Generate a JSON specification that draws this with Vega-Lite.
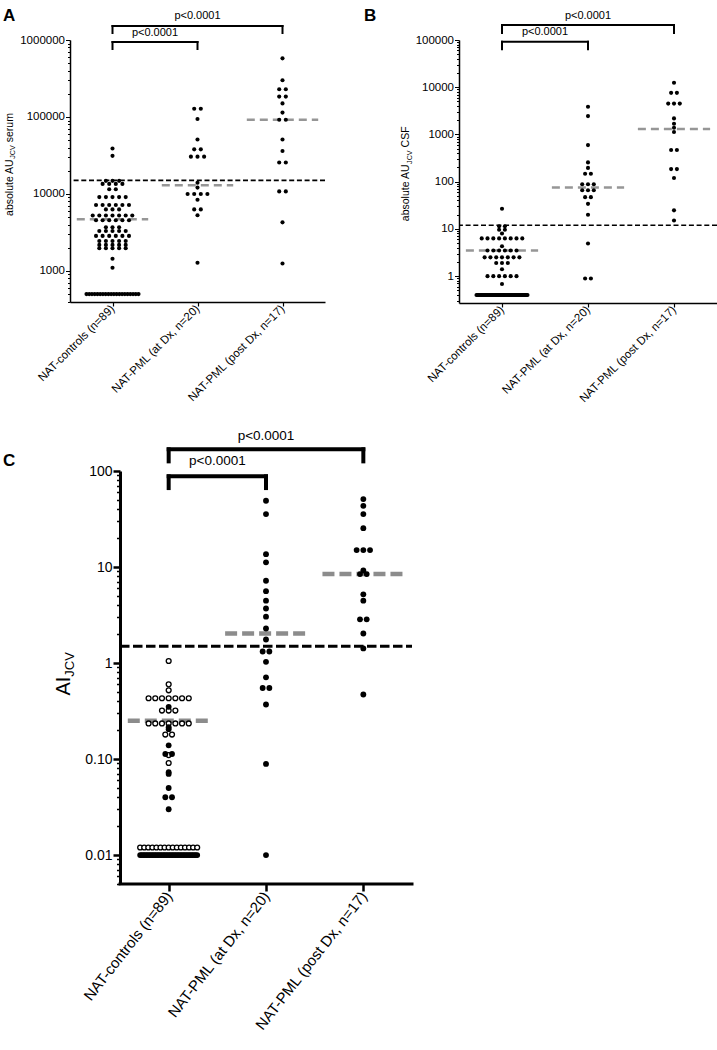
{
  "$schema": "https://vega.github.io/schema/vega-lite/v6.json",
  "background": "white",
  "padding": {"left": 3, "top": 6, "right": 2, "bottom": 2},
  "spacing": 23,
  "config": {
    "view": {"stroke": null},
    "font": "Liberation Sans",
    "axis": {"grid": false, "domainColor": "black", "tickColor": "black", "labelColor": "black", "labelFont": "Liberation Sans", "labelLimit": 400}
  },
  "datasets": {
    "brackets": [
      {"a": 0, "b": 1, "lvl": 1, "p": "p<0.0001"},
      {"a": 0, "b": 2, "lvl": 2, "p": "p<0.0001"}
    ],
    "serum": [
      {"gi":0,"v":38900},{"gi":0,"v":31300},
      {"gi":0,"v":14800},{"gi":0,"v":14800},{"gi":0,"v":14800},
      {"gi":0,"v":13500},{"gi":0,"v":13500},{"gi":0,"v":13500},{"gi":0,"v":13500},
      {"gi":0,"v":11500},{"gi":0,"v":11500},
      {"gi":0,"v":9100},{"gi":0,"v":9100},{"gi":0,"v":9100},{"gi":0,"v":9100},{"gi":0,"v":9100},
      {"gi":0,"v":7200},{"gi":0,"v":7200},{"gi":0,"v":7200},{"gi":0,"v":7200},{"gi":0,"v":7200},{"gi":0,"v":7200},
      {"gi":0,"v":6300},{"gi":0,"v":6300},{"gi":0,"v":6300},
      {"gi":0,"v":5250},{"gi":0,"v":5250},{"gi":0,"v":5250},{"gi":0,"v":5250},{"gi":0,"v":5250},{"gi":0,"v":5250},{"gi":0,"v":5250},
      {"gi":0,"v":4550},{"gi":0,"v":4550},{"gi":0,"v":4550},{"gi":0,"v":4550},{"gi":0,"v":4550},{"gi":0,"v":4550},
      {"gi":0,"v":3700},{"gi":0,"v":3700},{"gi":0,"v":3700},
      {"gi":0,"v":3300},{"gi":0,"v":3300},{"gi":0,"v":3300},{"gi":0,"v":3300},{"gi":0,"v":3300},
      {"gi":0,"v":2850},{"gi":0,"v":2850},{"gi":0,"v":2850},{"gi":0,"v":2850},{"gi":0,"v":2850},{"gi":0,"v":2850},
      {"gi":0,"v":2450},{"gi":0,"v":2450},{"gi":0,"v":2450},{"gi":0,"v":2450},{"gi":0,"v":2450},
      {"gi":0,"v":2180},{"gi":0,"v":2180},{"gi":0,"v":2180},{"gi":0,"v":2180},{"gi":0,"v":2180},
      {"gi":0,"v":1970},{"gi":0,"v":1970},{"gi":0,"v":1970},{"gi":0,"v":1970},{"gi":0,"v":1970},
      {"gi":0,"v":1440},{"gi":0,"v":1100},
      {"gi":0,"v":500},{"gi":0,"v":500},{"gi":0,"v":500},{"gi":0,"v":500},{"gi":0,"v":500},{"gi":0,"v":500},{"gi":0,"v":500},
      {"gi":0,"v":500},{"gi":0,"v":500},{"gi":0,"v":500},{"gi":0,"v":500},{"gi":0,"v":500},{"gi":0,"v":500},{"gi":0,"v":500},
      {"gi":0,"v":500},{"gi":0,"v":500},{"gi":0,"v":500},{"gi":0,"v":500},{"gi":0,"v":500},{"gi":0,"v":500},
      {"gi":1,"v":128000},{"gi":1,"v":128000},{"gi":1,"v":94000},{"gi":1,"v":51000},
      {"gi":1,"v":38000},{"gi":1,"v":38000},
      {"gi":1,"v":30500},{"gi":1,"v":30500},{"gi":1,"v":30500},
      {"gi":1,"v":14000},{"gi":1,"v":12100},
      {"gi":1,"v":10000},{"gi":1,"v":10000},{"gi":1,"v":10000},{"gi":1,"v":10000},
      {"gi":1,"v":8400},{"gi":1,"v":6300},{"gi":1,"v":6300},{"gi":1,"v":5300},{"gi":1,"v":1280},
      {"gi":2,"v":578000},{"gi":2,"v":300000},{"gi":2,"v":229000},{"gi":2,"v":229000},
      {"gi":2,"v":184000},{"gi":2,"v":184000},{"gi":2,"v":150000},{"gi":2,"v":114000},
      {"gi":2,"v":92000},{"gi":2,"v":92000},{"gi":2,"v":51000},{"gi":2,"v":36100},
      {"gi":2,"v":25600},{"gi":2,"v":25600},{"gi":2,"v":10800},{"gi":2,"v":10800},
      {"gi":2,"v":4280},{"gi":2,"v":1250}
    ],
    "csf": [
      {"gi":0,"v":26.7},{"gi":0,"v":11.4},{"gi":0,"v":11.4},{"gi":0,"v":9.6},{"gi":0,"v":9.6},{"gi":0,"v":8.0},
      {"gi":0,"v":6.3},{"gi":0,"v":6.3},{"gi":0,"v":6.3},{"gi":0,"v":6.3},{"gi":0,"v":6.3},{"gi":0,"v":6.3},{"gi":0,"v":6.3},{"gi":0,"v":6.3},
      {"gi":0,"v":4.3},
      {"gi":0,"v":3.5},{"gi":0,"v":3.5},{"gi":0,"v":3.5},{"gi":0,"v":3.5},{"gi":0,"v":3.5},{"gi":0,"v":3.5},
      {"gi":0,"v":2.5},{"gi":0,"v":2.5},{"gi":0,"v":2.5},{"gi":0,"v":2.5},{"gi":0,"v":2.5},{"gi":0,"v":2.5},{"gi":0,"v":2.5},
      {"gi":0,"v":1.9},{"gi":0,"v":1.9},{"gi":0,"v":1.9},{"gi":0,"v":1.4},
      {"gi":0,"v":1.0},{"gi":0,"v":1.0},{"gi":0,"v":1.0},{"gi":0,"v":1.0},{"gi":0,"v":1.0},{"gi":0,"v":1.0},
      {"gi":0,"v":0.68},
      {"gi":0,"v":0.4},{"gi":0,"v":0.4},{"gi":0,"v":0.4},{"gi":0,"v":0.4},{"gi":0,"v":0.4},{"gi":0,"v":0.4},{"gi":0,"v":0.4},{"gi":0,"v":0.4},{"gi":0,"v":0.4},{"gi":0,"v":0.4},
      {"gi":0,"v":0.4},{"gi":0,"v":0.4},{"gi":0,"v":0.4},{"gi":0,"v":0.4},{"gi":0,"v":0.4},{"gi":0,"v":0.4},{"gi":0,"v":0.4},{"gi":0,"v":0.4},{"gi":0,"v":0.4},{"gi":0,"v":0.4},
      {"gi":0,"v":0.4},{"gi":0,"v":0.4},{"gi":0,"v":0.4},{"gi":0,"v":0.4},{"gi":0,"v":0.4},{"gi":0,"v":0.4},{"gi":0,"v":0.4},{"gi":0,"v":0.4},{"gi":0,"v":0.4},{"gi":0,"v":0.4},
      {"gi":0,"v":0.4},{"gi":0,"v":0.4},{"gi":0,"v":0.4},{"gi":0,"v":0.4},{"gi":0,"v":0.4},{"gi":0,"v":0.4},{"gi":0,"v":0.4},{"gi":0,"v":0.4},{"gi":0,"v":0.4},{"gi":0,"v":0.4},
      {"gi":0,"v":0.4},{"gi":0,"v":0.4},{"gi":0,"v":0.4},{"gi":0,"v":0.4},{"gi":0,"v":0.4},{"gi":0,"v":0.4},{"gi":0,"v":0.4},{"gi":0,"v":0.4},{"gi":0,"v":0.4},{"gi":0,"v":0.4},
      {"gi":1,"v":3860},{"gi":1,"v":2450},{"gi":1,"v":596},{"gi":1,"v":256},{"gi":1,"v":196},
      {"gi":1,"v":147},{"gi":1,"v":147},{"gi":1,"v":88},{"gi":1,"v":88},{"gi":1,"v":88},
      {"gi":1,"v":66},{"gi":1,"v":66},{"gi":1,"v":66},{"gi":1,"v":47},{"gi":1,"v":47},
      {"gi":1,"v":34},{"gi":1,"v":20},{"gi":1,"v":4.9},{"gi":1,"v":0.89},{"gi":1,"v":0.89},
      {"gi":2,"v":12470},{"gi":2,"v":7600},{"gi":2,"v":7600},{"gi":2,"v":4500},{"gi":2,"v":4500},{"gi":2,"v":4500},
      {"gi":2,"v":2190},{"gi":2,"v":1690},{"gi":2,"v":1390},{"gi":2,"v":1130},
      {"gi":2,"v":470},{"gi":2,"v":470},{"gi":2,"v":185},{"gi":2,"v":185},{"gi":2,"v":120},
      {"gi":2,"v":24.7},{"gi":2,"v":15.1}
    ],
    "ai": [
      {"gi":0,"sub":1,"v":1.05},{"gi":0,"sub":1,"v":0.60},{"gi":0,"sub":1,"v":0.52},
      {"gi":0,"sub":1,"v":0.43},{"gi":0,"sub":1,"v":0.43},{"gi":0,"sub":1,"v":0.43},{"gi":0,"sub":1,"v":0.43},{"gi":0,"sub":1,"v":0.43},{"gi":0,"sub":1,"v":0.43},{"gi":0,"sub":1,"v":0.43},
      {"gi":0,"sub":1,"v":0.32},{"gi":0,"sub":1,"v":0.32},{"gi":0,"sub":1,"v":0.32},
      {"gi":0,"sub":1,"v":0.235},{"gi":0,"sub":1,"v":0.235},{"gi":0,"sub":1,"v":0.235},{"gi":0,"sub":1,"v":0.235},{"gi":0,"sub":1,"v":0.235},{"gi":0,"sub":1,"v":0.235},{"gi":0,"sub":1,"v":0.235},
      {"gi":0,"sub":1,"v":0.18},{"gi":0,"sub":1,"v":0.18},{"gi":0,"sub":1,"v":0.11},{"gi":0,"sub":1,"v":0.091},
      {"gi":0,"sub":1,"v":0.012},{"gi":0,"sub":1,"v":0.012},{"gi":0,"sub":1,"v":0.012},{"gi":0,"sub":1,"v":0.012},{"gi":0,"sub":1,"v":0.012},
      {"gi":0,"sub":1,"v":0.012},{"gi":0,"sub":1,"v":0.012},{"gi":0,"sub":1,"v":0.012},{"gi":0,"sub":1,"v":0.012},{"gi":0,"sub":1,"v":0.012},
      {"gi":0,"sub":1,"v":0.012},{"gi":0,"sub":1,"v":0.012},{"gi":0,"sub":1,"v":0.012},{"gi":0,"sub":1,"v":0.012},{"gi":0,"sub":1,"v":0.012},
      {"gi":0,"sub":2,"v":0.35},{"gi":0,"sub":2,"v":0.215},{"gi":0,"sub":2,"v":0.205},{"gi":0,"sub":2,"v":0.139},
      {"gi":0,"sub":2,"v":0.113},{"gi":0,"sub":2,"v":0.113},{"gi":0,"sub":2,"v":0.073},{"gi":0,"sub":2,"v":0.070},
      {"gi":0,"sub":2,"v":0.05},{"gi":0,"sub":2,"v":0.04},{"gi":0,"sub":2,"v":0.04},{"gi":0,"sub":2,"v":0.03},
      {"gi":0,"sub":2,"v":0.01},{"gi":0,"sub":2,"v":0.01},{"gi":0,"sub":2,"v":0.01},{"gi":0,"sub":2,"v":0.01},{"gi":0,"sub":2,"v":0.01},{"gi":0,"sub":2,"v":0.01},{"gi":0,"sub":2,"v":0.01},{"gi":0,"sub":2,"v":0.01},
      {"gi":0,"sub":2,"v":0.01},{"gi":0,"sub":2,"v":0.01},{"gi":0,"sub":2,"v":0.01},{"gi":0,"sub":2,"v":0.01},{"gi":0,"sub":2,"v":0.01},{"gi":0,"sub":2,"v":0.01},{"gi":0,"sub":2,"v":0.01},{"gi":0,"sub":2,"v":0.01},
      {"gi":0,"sub":2,"v":0.01},{"gi":0,"sub":2,"v":0.01},{"gi":0,"sub":2,"v":0.01},{"gi":0,"sub":2,"v":0.01},{"gi":0,"sub":2,"v":0.01},{"gi":0,"sub":2,"v":0.01},{"gi":0,"sub":2,"v":0.01},{"gi":0,"sub":2,"v":0.01},
      {"gi":0,"sub":2,"v":0.01},{"gi":0,"sub":2,"v":0.01},{"gi":0,"sub":2,"v":0.01},{"gi":0,"sub":2,"v":0.01},{"gi":0,"sub":2,"v":0.01},{"gi":0,"sub":2,"v":0.01},{"gi":0,"sub":2,"v":0.01},{"gi":0,"sub":2,"v":0.01},
      {"gi":0,"sub":2,"v":0.01},{"gi":0,"sub":2,"v":0.01},{"gi":0,"sub":2,"v":0.01},{"gi":0,"sub":2,"v":0.01},{"gi":0,"sub":2,"v":0.01},{"gi":0,"sub":2,"v":0.01},
      {"gi":1,"sub":2,"v":49},{"gi":1,"sub":2,"v":35.6},{"gi":1,"sub":2,"v":13.6},{"gi":1,"sub":2,"v":11.2},{"gi":1,"sub":2,"v":7.2},
      {"gi":1,"sub":2,"v":5.6},{"gi":1,"sub":2,"v":4.46},{"gi":1,"sub":2,"v":3.7},{"gi":1,"sub":2,"v":3.04},{"gi":1,"sub":2,"v":2.29},
      {"gi":1,"sub":2,"v":1.76},{"gi":1,"sub":2,"v":1.32},{"gi":1,"sub":2,"v":1.32},{"gi":1,"sub":2,"v":1.03},{"gi":1,"sub":2,"v":0.71},
      {"gi":1,"sub":2,"v":0.55},{"gi":1,"sub":2,"v":0.55},{"gi":1,"sub":2,"v":0.37},{"gi":1,"sub":2,"v":0.089},{"gi":1,"sub":2,"v":0.01},
      {"gi":2,"sub":2,"v":51},{"gi":2,"sub":2,"v":43.4},{"gi":2,"sub":2,"v":35.6},{"gi":2,"sub":2,"v":25.4},
      {"gi":2,"sub":2,"v":15},{"gi":2,"sub":2,"v":15},{"gi":2,"sub":2,"v":15},{"gi":2,"sub":2,"v":9.2},
      {"gi":2,"sub":2,"v":8.45},{"gi":2,"sub":2,"v":8.45},{"gi":2,"sub":2,"v":5.2},{"gi":2,"sub":2,"v":4.46},
      {"gi":2,"sub":2,"v":2.85},{"gi":2,"sub":2,"v":2.85},{"gi":2,"sub":2,"v":2.03},{"gi":2,"sub":2,"v":1.42},{"gi":2,"sub":2,"v":0.47}
    ]
  },
  "vconcat": [
    {
      "spacing": 37,
      "hconcat": [
        {
          "width": 255,
          "height": 262,
          "layer": [
            {
              "data": {"values": [{"cut": 15000}]},
              "mark": {"type": "rule", "color": "black", "strokeWidth": 1.6, "strokeDash": [5, 2.7]},
              "encoding": {"y": {"field": "cut", "type": "quantitative", "scale": {"type": "log", "domain": [395, 1000000], "nice": false}, "axis": {"title": null}}}
            },
            {
              "data": {"values": [{"gi": 0, "med": 4690}, {"gi": 1, "med": 13000}, {"gi": 2, "med": 92000}]},
              "transform": [{"calculate": "datum.gi - 0.42", "as": "x1"}, {"calculate": "datum.gi + 0.42", "as": "x2"}],
              "mark": {"type": "rule", "color": "#969696", "strokeWidth": 2.5, "strokeDash": [8, 5]},
              "encoding": {
                "x": {"field": "x1", "type": "quantitative", "scale": {"domain": [-0.5, 2.5], "nice": false, "zero": false}, "axis": {"title": null}},
                "x2": {"field": "x2"},
                "y": {"field": "med", "type": "quantitative", "scale": {"type": "log", "domain": [395, 1000000], "nice": false}, "axis": {"title": null}}
              }
            },
            {
              "data": {"name": "serum"},
              "transform": [
                {"window": [{"op": "row_number", "as": "rk"}, {"op": "count", "as": "cnt"}], "groupby": ["gi", "v"], "frame": [null, null]},
                {"calculate": "datum.cnt > 1 ? min(0.0776, 0.612 / (datum.cnt - 1)) : 0", "as": "stp"},
                {"calculate": "datum.gi + (datum.rk - (datum.cnt + 1) / 2) * datum.stp", "as": "xp"}
              ],
              "mark": {"type": "circle", "size": 17, "color": "black", "opacity": 1},
              "encoding": {
                "x": {"field": "xp", "type": "quantitative", "scale": {"domain": [-0.5, 2.5], "nice": false, "zero": false},
                  "axis": {"title": null, "values": [0, 1, 2], "labelExpr": "['NAT-controls (n=89)','NAT-PML (at Dx, n=20)','NAT-PML (post Dx, n=17)'][datum.value]", "labelAngle": -45, "labelAlign": "right", "labelBaseline": "middle", "labelFontSize": 11.5, "labelPadding": 1, "tickSize": 4, "tickWidth": 1.2, "domainWidth": 1.5, "labelOverlap": false, "labelFlush": false, "labelBound": false}},
                "y": {"field": "v", "type": "quantitative", "scale": {"type": "log", "domain": [395, 1000000], "nice": false},
                  "axis": {"title": null, "values": [400,500,600,700,800,900,1000,2000,3000,4000,5000,6000,7000,8000,9000,10000,20000,30000,40000,50000,60000,70000,80000,90000,100000,200000,300000,400000,500000,600000,700000,800000,900000,1000000],
                    "labelExpr": "indexof([1000,10000,100000,1000000], datum.value) >= 0 ? format(datum.value, 'd') : ''",
                    "tickSize": {"condition": {"test": "indexof([1000,10000,100000,1000000], datum.value) >= 0", "value": 4.5}, "value": 2.5},
                    "tickWidth": 1, "domainWidth": 1.5, "labelFontSize": 11.5, "labelPadding": 1, "labelOverlap": false, "labelFlush": false}}
              }
            },
            {
              "data": {"name": "brackets"},
              "transform": [{"calculate": "datum.lvl == 1 ? 942000 : 1520000", "as": "yb"}],
              "mark": {"type": "rule", "color": "black", "strokeWidth": 2, "strokeCap": "square"},
              "encoding": {
                "x": {"field": "a", "type": "quantitative", "scale": {"domain": [-0.5, 2.5], "nice": false, "zero": false}, "axis": {"title": null}},
                "x2": {"field": "b"},
                "y": {"field": "yb", "type": "quantitative", "scale": {"type": "log", "domain": [395, 1000000], "nice": false}, "axis": {"title": null}}
              }
            },
            {
              "data": {"name": "brackets"},
              "transform": [
                {"calculate": "datum.lvl == 1 ? 942000 : 1520000", "as": "yb"},
                {"calculate": "datum.lvl == 1 ? 764000 : 1233000", "as": "yt"},
                {"fold": ["a", "b"], "as": ["end", "xe"]}
              ],
              "mark": {"type": "rule", "color": "black", "strokeWidth": 2, "strokeCap": "square"},
              "encoding": {
                "x": {"field": "xe", "type": "quantitative", "scale": {"domain": [-0.5, 2.5], "nice": false, "zero": false}, "axis": {"title": null}},
                "y": {"field": "yb", "type": "quantitative", "scale": {"type": "log", "domain": [395, 1000000], "nice": false}, "axis": {"title": null}},
                "y2": {"field": "yt"}
              }
            },
            {
              "data": {"name": "brackets"},
              "transform": [
                {"calculate": "(datum.a + datum.b) / 2", "as": "mid"},
                {"calculate": "datum.lvl == 1 ? 1114000 : 1892000", "as": "yp"}
              ],
              "mark": {"type": "text", "fontSize": 11, "align": "center", "baseline": "alphabetic", "color": "black"},
              "encoding": {
                "x": {"field": "mid", "type": "quantitative", "scale": {"domain": [-0.5, 2.5], "nice": false, "zero": false}, "axis": {"title": null}},
                "y": {"field": "yp", "type": "quantitative", "scale": {"type": "log", "domain": [395, 1000000], "nice": false}, "axis": {"title": null}},
                "text": {"field": "p"}
              }
            },
            {
              "data": {"values": [{"t": "A"}]},
              "mark": {"type": "text", "align": "left", "baseline": "alphabetic", "fontSize": 17, "fontWeight": "bold", "color": "black"},
              "encoding": {
                "x": {"datum": -1.288, "type": "quantitative", "scale": {"domain": [-0.5, 2.5], "nice": false, "zero": false}, "axis": {"title": null}},
                "y": {"datum": 1766000, "type": "quantitative", "scale": {"type": "log", "domain": [395, 1000000], "nice": false}, "axis": {"title": null}},
                "text": {"field": "t"}
              }
            },
            {
              "data": {"values": [{"t": "absolute AU"}]},
              "mark": {"type": "text", "angle": 270, "align": "left", "baseline": "alphabetic", "fontSize": 10.5, "color": "black"},
              "encoding": {
                "x": {"datum": -1.171, "type": "quantitative", "scale": {"domain": [-0.5, 2.5], "nice": false, "zero": false}, "axis": {"title": null}},
                "y": {"datum": 5180, "type": "quantitative", "scale": {"type": "log", "domain": [395, 1000000], "nice": false}, "axis": {"title": null}},
                "text": {"field": "t"}
              }
            },
            {
              "data": {"values": [{"t": "JCV"}]},
              "mark": {"type": "text", "angle": 270, "align": "left", "baseline": "alphabetic", "fontSize": 7.2, "dx": 57.2, "dy": 2.5, "color": "black"},
              "encoding": {
                "x": {"datum": -1.171, "type": "quantitative", "scale": {"domain": [-0.5, 2.5], "nice": false, "zero": false}, "axis": {"title": null}},
                "y": {"datum": 5180, "type": "quantitative", "scale": {"type": "log", "domain": [395, 1000000], "nice": false}, "axis": {"title": null}},
                "text": {"field": "t"}
              }
            },
            {
              "data": {"values": [{"t": "serum"}]},
              "mark": {"type": "text", "angle": 270, "align": "left", "baseline": "alphabetic", "fontSize": 10.5, "dx": 73.7, "color": "black"},
              "encoding": {
                "x": {"datum": -1.171, "type": "quantitative", "scale": {"domain": [-0.5, 2.5], "nice": false, "zero": false}, "axis": {"title": null}},
                "y": {"datum": 5180, "type": "quantitative", "scale": {"type": "log", "domain": [395, 1000000], "nice": false}, "axis": {"title": null}},
                "text": {"field": "t"}
              }
            }
          ]
        },
        {
          "width": 258,
          "height": 263,
          "layer": [
            {
              "data": {"values": [{"cut": 12}]},
              "mark": {"type": "rule", "color": "black", "strokeWidth": 1.6, "strokeDash": [5, 2.7]},
              "encoding": {"y": {"field": "cut", "type": "quantitative", "scale": {"type": "log", "domain": [0.27, 100000], "nice": false}, "axis": {"title": null}}}
            },
            {
              "data": {"values": [{"gi": 0, "med": 3.5}, {"gi": 1, "med": 75}, {"gi": 2, "med": 1300}]},
              "transform": [{"calculate": "datum.gi - 0.42", "as": "x1"}, {"calculate": "datum.gi + 0.42", "as": "x2"}],
              "mark": {"type": "rule", "color": "#969696", "strokeWidth": 2.5, "strokeDash": [8, 5]},
              "encoding": {
                "x": {"field": "x1", "type": "quantitative", "scale": {"domain": [-0.5, 2.5], "nice": false, "zero": false}, "axis": {"title": null}},
                "x2": {"field": "x2"},
                "y": {"field": "med", "type": "quantitative", "scale": {"type": "log", "domain": [0.27, 100000], "nice": false}, "axis": {"title": null}}
              }
            },
            {
              "data": {"name": "csf"},
              "transform": [
                {"window": [{"op": "row_number", "as": "rk"}, {"op": "count", "as": "cnt"}], "groupby": ["gi", "v"], "frame": [null, null]},
                {"calculate": "datum.cnt > 1 ? min(0.0674, 0.593 / (datum.cnt - 1)) : 0", "as": "stp"},
                {"calculate": "datum.gi + (datum.rk - (datum.cnt + 1) / 2) * datum.stp", "as": "xp"}
              ],
              "mark": {"type": "circle", "size": 17, "color": "black", "opacity": 1},
              "encoding": {
                "x": {"field": "xp", "type": "quantitative", "scale": {"domain": [-0.5, 2.5], "nice": false, "zero": false},
                  "axis": {"title": null, "values": [0, 1, 2], "labelExpr": "['NAT-controls (n=89)','NAT-PML (at Dx, n=20)','NAT-PML (post Dx, n=17)'][datum.value]", "labelAngle": -45, "labelAlign": "right", "labelBaseline": "middle", "labelFontSize": 11.5, "labelPadding": 1, "tickSize": 4, "tickWidth": 1.2, "domainWidth": 1.5, "labelOverlap": false, "labelFlush": false, "labelBound": false}},
                "y": {"field": "v", "type": "quantitative", "scale": {"type": "log", "domain": [0.27, 100000], "nice": false},
                  "axis": {"title": null, "values": [0.3,0.4,0.5,0.6,0.7,0.8,0.9,1,2,3,4,5,6,7,8,9,10,20,30,40,50,60,70,80,90,100,200,300,400,500,600,700,800,900,1000,2000,3000,4000,5000,6000,7000,8000,9000,10000,20000,30000,40000,50000,60000,70000,80000,90000,100000],
                    "labelExpr": "indexof([1,10,100,1000,10000,100000], datum.value) >= 0 ? format(datum.value, 'd') : ''",
                    "tickSize": {"condition": {"test": "indexof([1,10,100,1000,10000,100000], datum.value) >= 0", "value": 4.5}, "value": 2.5},
                    "tickWidth": 1, "domainWidth": 1.5, "labelFontSize": 11.5, "labelPadding": 1, "labelOverlap": false, "labelFlush": false}}
              }
            },
            {
              "data": {"name": "brackets"},
              "transform": [{"calculate": "datum.lvl == 1 ? 92000 : 208000", "as": "yb"}],
              "mark": {"type": "rule", "color": "black", "strokeWidth": 2, "strokeCap": "square"},
              "encoding": {
                "x": {"field": "a", "type": "quantitative", "scale": {"domain": [-0.5, 2.5], "nice": false, "zero": false}, "axis": {"title": null}},
                "x2": {"field": "b"},
                "y": {"field": "yb", "type": "quantitative", "scale": {"type": "log", "domain": [0.27, 100000], "nice": false}, "axis": {"title": null}}
              }
            },
            {
              "data": {"name": "brackets"},
              "transform": [
                {"calculate": "datum.lvl == 1 ? 92000 : 208000", "as": "yb"},
                {"calculate": "datum.lvl == 1 ? 63500 : 140700", "as": "yt"},
                {"fold": ["a", "b"], "as": ["end", "xe"]}
              ],
              "mark": {"type": "rule", "color": "black", "strokeWidth": 2, "strokeCap": "square"},
              "encoding": {
                "x": {"field": "xe", "type": "quantitative", "scale": {"domain": [-0.5, 2.5], "nice": false, "zero": false}, "axis": {"title": null}},
                "y": {"field": "yb", "type": "quantitative", "scale": {"type": "log", "domain": [0.27, 100000], "nice": false}, "axis": {"title": null}},
                "y2": {"field": "yt"}
              }
            },
            {
              "data": {"name": "brackets"},
              "transform": [
                {"calculate": "(datum.a + datum.b) / 2", "as": "mid"},
                {"calculate": "datum.lvl == 1 ? 125000 : 282700", "as": "yp"}
              ],
              "mark": {"type": "text", "fontSize": 11, "align": "center", "baseline": "alphabetic", "color": "black"},
              "encoding": {
                "x": {"field": "mid", "type": "quantitative", "scale": {"domain": [-0.5, 2.5], "nice": false, "zero": false}, "axis": {"title": null}},
                "y": {"field": "yp", "type": "quantitative", "scale": {"type": "log", "domain": [0.27, 100000], "nice": false}, "axis": {"title": null}},
                "text": {"field": "p"}
              }
            },
            {
              "data": {"values": [{"t": "B"}]},
              "mark": {"type": "text", "align": "left", "baseline": "alphabetic", "fontSize": 17, "fontWeight": "bold", "color": "black"},
              "encoding": {
                "x": {"datum": -1.605, "type": "quantitative", "scale": {"domain": [-0.5, 2.5], "nice": false, "zero": false}, "axis": {"title": null}},
                "y": {"datum": 252700, "type": "quantitative", "scale": {"type": "log", "domain": [0.27, 100000], "nice": false}, "axis": {"title": null}},
                "text": {"field": "t"}
              }
            },
            {
              "data": {"values": [{"t": "absolute AU"}]},
              "mark": {"type": "text", "angle": 270, "align": "left", "baseline": "alphabetic", "fontSize": 10.5, "color": "black"},
              "encoding": {
                "x": {"datum": -1.081, "type": "quantitative", "scale": {"domain": [-0.5, 2.5], "nice": false, "zero": false}, "axis": {"title": null}},
                "y": {"datum": 14.6, "type": "quantitative", "scale": {"type": "log", "domain": [0.27, 100000], "nice": false}, "axis": {"title": null}},
                "text": {"field": "t"}
              }
            },
            {
              "data": {"values": [{"t": "JCV"}]},
              "mark": {"type": "text", "angle": 270, "align": "left", "baseline": "alphabetic", "fontSize": 7.2, "dx": 57.2, "dy": 2.5, "color": "black"},
              "encoding": {
                "x": {"datum": -1.081, "type": "quantitative", "scale": {"domain": [-0.5, 2.5], "nice": false, "zero": false}, "axis": {"title": null}},
                "y": {"datum": 14.6, "type": "quantitative", "scale": {"type": "log", "domain": [0.27, 100000], "nice": false}, "axis": {"title": null}},
                "text": {"field": "t"}
              }
            },
            {
              "data": {"values": [{"t": "CSF"}]},
              "mark": {"type": "text", "angle": 270, "align": "left", "baseline": "alphabetic", "fontSize": 10.5, "dx": 73.7, "color": "black"},
              "encoding": {
                "x": {"datum": -1.081, "type": "quantitative", "scale": {"domain": [-0.5, 2.5], "nice": false, "zero": false}, "axis": {"title": null}},
                "y": {"datum": 14.6, "type": "quantitative", "scale": {"type": "log", "domain": [0.27, 100000], "nice": false}, "axis": {"title": null}},
                "text": {"field": "t"}
              }
            }
          ]
        }
      ]
    },
    {
      "width": 342,
      "height": 413,
      "layer": [
        {
          "data": {"values": [{"cut": 1.5}]},
          "mark": {"type": "rule", "color": "black", "strokeWidth": 3, "strokeDash": [9.5, 3.5]},
          "encoding": {
            "x": {"datum": -0.5, "type": "quantitative", "scale": {"domain": [-1.0137, 2.5], "nice": false, "zero": false}, "axis": {"title": null}},
            "x2": {"datum": 2.5},
            "y": {"field": "cut", "type": "quantitative", "scale": {"type": "log", "domain": [0.005, 100], "nice": false}, "axis": {"title": null}}
          }
        },
        {
          "data": {"values": [{"gi": 0, "med": 0.25}, {"gi": 1, "med": 2.03}, {"gi": 2, "med": 8.45}]},
          "transform": [{"calculate": "datum.gi - 0.42", "as": "x1"}, {"calculate": "datum.gi + 0.42", "as": "x2"}],
          "mark": {"type": "rule", "color": "#8c8c8c", "strokeWidth": 4.5, "strokeDash": [12, 5]},
          "encoding": {
            "x": {"field": "x1", "type": "quantitative", "scale": {"domain": [-1.0137, 2.5], "nice": false, "zero": false}, "axis": {"title": null}},
            "x2": {"field": "x2"},
            "y": {"field": "med", "type": "quantitative", "scale": {"type": "log", "domain": [0.005, 100], "nice": false}, "axis": {"title": null}}
          }
        },
        {
          "data": {"values": [{"t": "x axis line"}]},
          "mark": {"type": "rule", "color": "black", "strokeWidth": 3, "strokeCap": "square"},
          "encoding": {
            "x": {"datum": -0.5, "type": "quantitative", "scale": {"domain": [-1.0137, 2.5], "nice": false, "zero": false}, "axis": {"title": null}},
            "x2": {"datum": 2.5},
            "y": {"datum": 0.005, "type": "quantitative", "scale": {"type": "log", "domain": [0.005, 100], "nice": false}, "axis": {"title": null}}
          }
        },
        {
          "data": {"name": "ai"},
          "transform": [
            {"window": [{"op": "row_number", "as": "rk"}, {"op": "count", "as": "cnt"}], "groupby": ["gi", "v", "sub"], "frame": [null, null]},
            {"calculate": "datum.cnt > 1 ? min(0.0688, 0.586 / (datum.cnt - 1)) : 0", "as": "stp"},
            {"calculate": "datum.gi + (datum.rk - (datum.cnt + 1) / 2) * datum.stp", "as": "xp"},
            {"filter": "datum.sub == 1"}
          ],
          "mark": {"type": "point", "shape": "circle", "filled": true, "fill": "white", "stroke": "black", "strokeWidth": 1.3, "size": 24, "opacity": 1},
          "encoding": {
            "x": {"field": "xp", "type": "quantitative", "scale": {"domain": [-1.0137, 2.5], "nice": false, "zero": false},
              "axis": {"title": null, "values": [0, 1, 2], "domain": false, "labelExpr": "['NAT-controls (n=89)','NAT-PML (at Dx, n=20)','NAT-PML (post Dx, n=17)'][datum.value]", "labelAngle": -52, "labelAlign": "right", "labelBaseline": "middle", "labelFontSize": 15, "labelPadding": 2, "tickSize": 7, "tickWidth": 2.5, "labelOverlap": false, "labelFlush": false, "labelBound": false}},
            "y": {"field": "v", "type": "quantitative", "scale": {"type": "log", "domain": [0.005, 100], "nice": false},
              "axis": {"title": null, "offset": -50, "values": [0.005,0.006,0.007,0.008,0.009,0.01,0.02,0.03,0.04,0.05,0.06,0.07,0.08,0.09,0.1,0.2,0.3,0.4,0.5,0.6,0.7,0.8,0.9,1,2,3,4,5,6,7,8,9,10,20,30,40,50,60,70,80,90,100],
                "labelExpr": "datum.value === 100 ? '100' : datum.value === 10 ? '10' : datum.value === 1 ? '1' : datum.value === 0.1 ? '0.10' : datum.value === 0.01 ? '0.01' : ''",
                "tickSize": {"condition": {"test": "indexof([0.01,0.1,1,10,100], datum.value) >= 0", "value": 7}, "value": 3.5},
                "tickWidth": {"condition": {"test": "indexof([0.01,0.1,1,10,100], datum.value) >= 0", "value": 2.5}, "value": 1.5},
                "domainWidth": 3, "labelFontSize": 14, "labelPadding": 1, "labelOverlap": false, "labelFlush": false}}
          }
        },
        {
          "data": {"name": "ai"},
          "transform": [
            {"window": [{"op": "row_number", "as": "rk"}, {"op": "count", "as": "cnt"}], "groupby": ["gi", "v", "sub"], "frame": [null, null]},
            {"calculate": "datum.cnt > 1 ? min(0.0688, 0.586 / (datum.cnt - 1)) : 0", "as": "stp"},
            {"calculate": "datum.gi + (datum.rk - (datum.cnt + 1) / 2) * datum.stp", "as": "xp"},
            {"filter": "datum.sub == 2"}
          ],
          "mark": {"type": "circle", "size": 34, "color": "black", "opacity": 1},
          "encoding": {
            "x": {"field": "xp", "type": "quantitative", "scale": {"domain": [-1.0137, 2.5], "nice": false, "zero": false}, "axis": {"title": null}},
            "y": {"field": "v", "type": "quantitative", "scale": {"type": "log", "domain": [0.005, 100], "nice": false}, "axis": {"title": null}}
          }
        },
        {
          "data": {"name": "brackets"},
          "transform": [{"calculate": "datum.lvl == 1 ? 88 : 168", "as": "yb"}],
          "mark": {"type": "rule", "color": "black", "strokeWidth": 4, "strokeCap": "square"},
          "encoding": {
            "x": {"field": "a", "type": "quantitative", "scale": {"domain": [-1.0137, 2.5], "nice": false, "zero": false}, "axis": {"title": null}},
            "x2": {"field": "b"},
            "y": {"field": "yb", "type": "quantitative", "scale": {"type": "log", "domain": [0.005, 100], "nice": false}, "axis": {"title": null}}
          }
        },
        {
          "data": {"name": "brackets"},
          "transform": [
            {"calculate": "datum.lvl == 1 ? 88 : 168", "as": "yb"},
            {"calculate": "datum.lvl == 1 ? 66.4 : 126", "as": "yt"},
            {"fold": ["a", "b"], "as": ["end", "xe"]}
          ],
          "mark": {"type": "rule", "color": "black", "strokeWidth": 4, "strokeCap": "square"},
          "encoding": {
            "x": {"field": "xe", "type": "quantitative", "scale": {"domain": [-1.0137, 2.5], "nice": false, "zero": false}, "axis": {"title": null}},
            "y": {"field": "yb", "type": "quantitative", "scale": {"type": "log", "domain": [0.005, 100], "nice": false}, "axis": {"title": null}},
            "y2": {"field": "yt"}
          }
        },
        {
          "data": {"name": "brackets"},
          "transform": [
            {"calculate": "(datum.a + datum.b) / 2", "as": "mid"},
            {"calculate": "datum.lvl == 1 ? 115 : 211", "as": "yp"}
          ],
          "mark": {"type": "text", "fontSize": 13.5, "align": "center", "baseline": "alphabetic", "color": "black"},
          "encoding": {
            "x": {"field": "mid", "type": "quantitative", "scale": {"domain": [-1.0137, 2.5], "nice": false, "zero": false}, "axis": {"title": null}},
            "y": {"field": "yp", "type": "quantitative", "scale": {"type": "log", "domain": [0.005, 100], "nice": false}, "axis": {"title": null}},
            "text": {"field": "p"}
          }
        },
        {
          "data": {"values": [{"t": "C"}]},
          "mark": {"type": "text", "align": "left", "baseline": "alphabetic", "fontSize": 17, "fontWeight": "bold", "color": "black"},
          "encoding": {
            "x": {"datum": -1.702, "type": "quantitative", "scale": {"domain": [-1.0137, 2.5], "nice": false, "zero": false}, "axis": {"title": null}},
            "y": {"datum": 112.8, "type": "quantitative", "scale": {"type": "log", "domain": [0.005, 100], "nice": false}, "axis": {"title": null}},
            "text": {"field": "t"}
          }
        },
        {
          "data": {"values": [{"t": "AI"}]},
          "mark": {"type": "text", "angle": 270, "align": "left", "baseline": "alphabetic", "fontSize": 20, "color": "black"},
          "encoding": {
            "x": {"datum": -1.014, "type": "quantitative", "scale": {"domain": [-1.0137, 2.5], "nice": false, "zero": false}, "axis": {"title": null}},
            "y": {"datum": 0.458, "type": "quantitative", "scale": {"type": "log", "domain": [0.005, 100], "nice": false}, "axis": {"title": null}},
            "text": {"field": "t"}
          }
        },
        {
          "data": {"values": [{"t": "JCV"}]},
          "mark": {"type": "text", "angle": 270, "align": "left", "baseline": "alphabetic", "fontSize": 13, "dx": 18.9, "dy": 4, "color": "black"},
          "encoding": {
            "x": {"datum": -1.014, "type": "quantitative", "scale": {"domain": [-1.0137, 2.5], "nice": false, "zero": false}, "axis": {"title": null}},
            "y": {"datum": 0.458, "type": "quantitative", "scale": {"type": "log", "domain": [0.005, 100], "nice": false}, "axis": {"title": null}},
            "text": {"field": "t"}
          }
        }
      ]
    }
  ]
}
